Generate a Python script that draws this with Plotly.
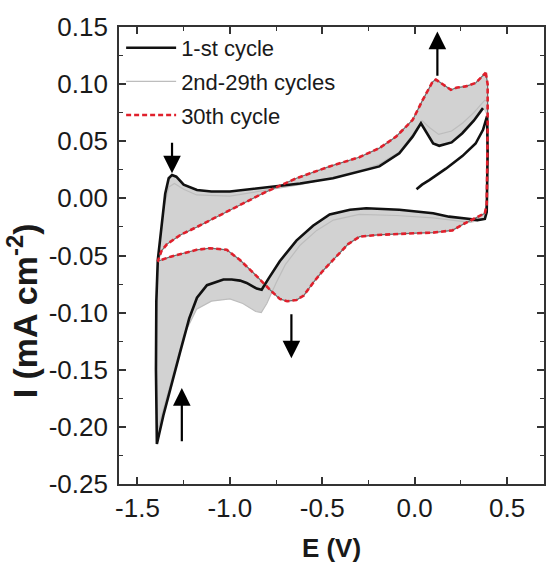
import plotly.graph_objects as go

# ---------------- data ----------------
# 1st cycle: initial anodic sweep from 0 V to the positive vertex
c1_start_E = [0.010, 0.040, 0.079, 0.169, 0.258, 0.330, 0.370, 0.387]
c1_start_I = [0.008, 0.012, 0.016, 0.026, 0.037, 0.048, 0.060, 0.069]
# 1st cycle: closed part (reversal at +0.4 V, cathodic sweep, anodic sweep)
c1_E = [0.392, 0.395, 0.394, 0.390, 0.380, 0.340, 0.300, 0.186, 0.100, -0.083, -0.262,
        -0.350, -0.460, -0.550, -0.640, -0.730, -0.790, -0.828, -0.855, -0.909, -0.945,
        -0.990, -1.035, -1.124, -1.178, -1.220, -1.270, -1.320, -1.360, -1.395,
        -1.400, -1.398, -1.390, -1.370, -1.350, -1.331, -1.313, -1.290, -1.250, -1.178,
        -1.100, -1.000, -0.850, -0.620, -0.442, -0.262, -0.191, -0.083, -0.011, 0.034,
        0.070, 0.100, 0.133, 0.200, 0.258, 0.320, 0.370]
c1_I = [0.072, 0.040, 0.005, -0.012, -0.018, -0.019, -0.018, -0.016, -0.013, -0.010, -0.0086,
        -0.010, -0.014, -0.024, -0.037, -0.055, -0.070, -0.080, -0.079, -0.074, -0.072,
        -0.071, -0.071, -0.076, -0.087, -0.105, -0.135, -0.165, -0.190, -0.215,
        -0.150, -0.090, -0.054, -0.025, 0.004, 0.0176, 0.0205, 0.019, 0.012, 0.0074,
        0.006, 0.006, 0.009, 0.013, 0.0176, 0.025, 0.028, 0.0395, 0.054, 0.0657,
        0.056, 0.048, 0.046, 0.049, 0.057, 0.068, 0.079]

# 2nd cycle (outer envelope of the 2nd-29th cycles)
c2_E = [0.394, 0.395, 0.392, 0.380, 0.300, 0.100, -0.100, -0.300, -0.440, -0.530,
        -0.620, -0.700, -0.750, -0.800, -0.830, -0.860, -0.930, -1.000, -1.100, -1.180,
        -1.250, -1.300, -1.350, -1.395, -1.400, -1.395, -1.380, -1.360, -1.330, -1.300,
        -1.250, -1.180, -1.000, -0.850, -0.620, -0.450, -0.260, -0.190, -0.080, -0.010,
        0.040, 0.080, 0.130, 0.200, 0.260, 0.320, 0.380]
c2_I = [0.085, 0.040, 0.000, -0.018, -0.021, -0.017, -0.015, -0.014, -0.019, -0.028,
        -0.041, -0.058, -0.074, -0.092, -0.100, -0.099, -0.092, -0.088, -0.090, -0.097,
        -0.120, -0.150, -0.180, -0.205, -0.130, -0.070, -0.040, -0.010, 0.010, 0.013,
        0.008, 0.003, 0.002, 0.006, 0.012, 0.018, 0.026, 0.030, 0.041, 0.056,
        0.068, 0.062, 0.056, 0.059, 0.066, 0.075, 0.086]

# 30th cycle
c30_E = [0.385, 0.395, 0.395, 0.393, 0.390, 0.380, 0.330, 0.270, 0.204, 0.100, 0.007,
         -0.100, -0.200, -0.298, -0.360, -0.442, -0.500, -0.550, -0.600, -0.640, -0.690,
         -0.730, -0.783, -0.855, -0.945, -1.017, -1.107, -1.180, -1.250, -1.320, -1.390,
         -1.370, -1.340, -1.268, -1.178, -1.000, -0.820, -0.640, -0.460, -0.300, -0.191,
         -0.101, -0.011, 0.043, 0.097, 0.115, 0.150, 0.196, 0.230, 0.276, 0.330, 0.380]
c30_I = [0.110, 0.100, 0.060, 0.020, -0.005, -0.013, -0.017, -0.022, -0.028, -0.030, -0.0305,
         -0.031, -0.032, -0.0335, -0.040, -0.054, -0.064, -0.074, -0.085, -0.089, -0.090,
         -0.088, -0.080, -0.068, -0.054, -0.045, -0.0436, -0.045, -0.048, -0.051, -0.055,
         -0.046, -0.040, -0.032, -0.025, -0.010, 0.0045, 0.0176, 0.028, 0.036, 0.044,
         0.054, 0.0686, 0.086, 0.102, 0.104, 0.100, 0.095, 0.097, 0.098, 0.101, 0.110]

# arrows (tail -> head)
arrow_tail_E = [-1.313, 0.123, -0.667, -1.260]
arrow_tail_I = [0.050, 0.106, -0.100, -0.214]
arrow_head_E = [-1.313, 0.123, -0.667, -1.260]
arrow_head_I = [0.022, 0.146, -0.140, -0.166]

x_tickvals = [-1.5, -1.0, -0.5, 0.0, 0.5]
x_ticktext = ['-1.5', '-1.0', '-0.5', '0.0', '0.5']
y_tickvals = [-0.25, -0.20, -0.15, -0.10, -0.05, 0.00, 0.05, 0.10, 0.15]
y_ticktext = ['-0.25', '-0.20', '-0.15', '-0.10', '-0.05', '0.00', '0.05', '0.10', '0.15']

legend_names = ['1-st cycle', '2nd-29th cycles', '30th cycle']
x_title = '<b>E (V)</b>'
y_title = '<b>I (mA cm<sup>-2</sup>)</b>'

# ---------------- figure ----------------
FONT = 'Liberation Sans, Arial, sans-serif'
TXT = '#1a1a1a'
BAND = '#d2d2d2'

fig = go.Figure()

# gray band = area between cycle 30 and cycles 1 / 2
fig.add_trace(go.Scatter(x=c30_E, y=c30_I, mode='lines', line=dict(width=0),
                         showlegend=False, hoverinfo='skip'))
fig.add_trace(go.Scatter(x=c1_E, y=c1_I, mode='lines', line=dict(width=0),
                         fill='tonext', fillcolor=BAND, showlegend=False, hoverinfo='skip'))
fig.add_trace(go.Scatter(x=c30_E, y=c30_I, mode='lines', line=dict(width=0),
                         showlegend=False, hoverinfo='skip'))
fig.add_trace(go.Scatter(x=c2_E, y=c2_I, mode='lines', line=dict(width=0),
                         fill='tonext', fillcolor=BAND, showlegend=False, hoverinfo='skip'))

# 2nd-29th cycles (envelope line)
fig.add_trace(go.Scatter(x=c2_E + [c2_E[0]], y=c2_I + [c2_I[0]], mode='lines',
                         line=dict(color='#bdbdbd', width=1.2),
                         name=legend_names[1], legendrank=2, legendgroup='b'))
# dark line under the red dashes
fig.add_trace(go.Scatter(x=c30_E + [c30_E[0]], y=c30_I + [c30_I[0]], mode='lines',
                         line=dict(color='#6a6a6a', width=1.2),
                         showlegend=False, hoverinfo='skip'))
# 1st cycle
fig.add_trace(go.Scatter(x=c1_start_E + c1_E, y=c1_start_I + c1_I, mode='lines',
                         line=dict(color='#111111', width=2.6),
                         name=legend_names[0], legendrank=1, legendgroup='a'))
# 30th cycle
fig.add_trace(go.Scatter(x=c30_E + [c30_E[0]], y=c30_I + [c30_I[0]], mode='lines',
                         line=dict(color='#e0202c', width=2.6, dash='5px,3px'),
                         name=legend_names[2], legendrank=3, legendgroup='c'))

for te, ti, he, hi in zip(arrow_tail_E, arrow_tail_I, arrow_head_E, arrow_head_I):
    fig.add_annotation(x=he, y=hi, ax=te, ay=ti, xref='x', yref='y', axref='x', ayref='y',
                       text='', showarrow=True, arrowhead=2, arrowsize=1.6,
                       arrowwidth=2.2, arrowcolor='#000000', standoff=0)

# y-axis title (placed as a rotated text)
fig.add_annotation(text=y_title, xref='paper', yref='paper', x=-0.228, y=0.378,
                   xanchor='center', yanchor='middle', textangle=-90, showarrow=False,
                   font=dict(family=FONT, size=34, color=TXT))

axis_common = dict(showgrid=False, zeroline=False, showline=True, linecolor='#333333',
                   linewidth=1.8, mirror='ticks', ticks='inside', ticklen=7, tickwidth=1.5,
                   tickcolor='#333333', tickfont=dict(family=FONT, size=26, color=TXT))

fig.update_xaxes(range=[-1.6, 0.7], tickvals=x_tickvals, ticktext=x_ticktext,
                 minor=dict(dtick=0.25, ticks='inside', ticklen=4, tickwidth=1.2,
                            tickcolor='#333333'),
                 ticklabelstandoff=0,
                 title=dict(text=x_title, font=dict(family=FONT, size=26, color=TXT),
                            standoff=24),
                 **axis_common)
fig.update_yaxes(range=[-0.25, 0.15], tickvals=y_tickvals, ticktext=y_ticktext,
                 minor=dict(dtick=0.025, ticks='inside', ticklen=4, tickwidth=1.2,
                            tickcolor='#333333'),
                 ticklabelstandoff=4,
                 **axis_common)

fig.update_layout(
    width=546, height=563,
    margin=dict(l=119, r=2, t=27, b=79, autoexpand=False),
    paper_bgcolor='white', plot_bgcolor='white',
    showlegend=True,
    legend=dict(x=0.005, y=1.0, xanchor='left', yanchor='top',
                bgcolor='rgba(0,0,0,0)', font=dict(family=FONT, size=22, color=TXT),
                tracegroupgap=2, itemwidth=50),
)

fig.write_html('out.html')
